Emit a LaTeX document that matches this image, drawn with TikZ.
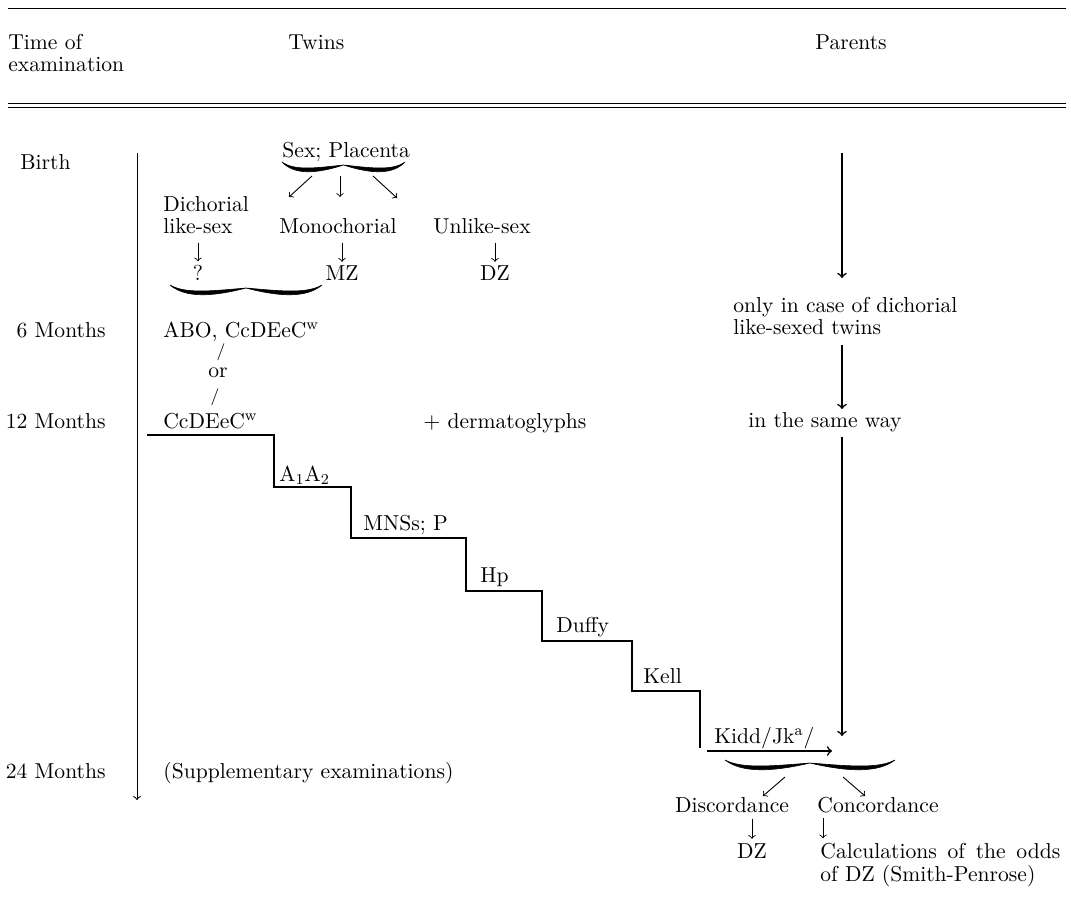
\documentclass[tikz,border=0pt]{standalone}

\tikzset{
  txt/.style={inner sep=0pt, font=\fontsize{10.8}{13}\selectfont},
  bw/.style={txt, anchor=base west},
  be/.style={txt, anchor=base east},
  bc/.style={txt, anchor=base},
  slash/.style={inner sep=0pt, anchor=base, font=\fontsize{8.5}{10}\selectfont},
  rule/.style={line width=0.5pt},
  axis/.style={line width=0.5pt, ->},
  stair/.style={line width=1.2pt},
  flow/.style={line width=0.8pt, ->},
  tick/.style={line width=0.45pt, ->},
}

% tapered brace: left x, right x, y of the ends (in picture units)
\newcommand{\wavebrace}[3]{%
  \pgfmathsetmacro{\bm}{(#1+#2)/2}%
  \pgfmathsetmacro{\bh}{(#2-#1)/2}%
  \filldraw[line width=0.3pt] (#1,#3) .. controls ({#1+0.2*\bh},{#3+9}) and ({\bm-0.45*\bh},{#3+6}) .. (\bm,{#3+3})
    .. controls ({\bm-0.45*\bh},{#3+12}) and ({#1+0.2*\bh},{#3+13}) .. (#1,#3) -- cycle;
  \filldraw[line width=0.3pt] (#2,#3) .. controls ({#2-0.2*\bh},{#3+9}) and ({\bm+0.45*\bh},{#3+6}) .. (\bm,{#3+3})
    .. controls ({\bm+0.45*\bh},{#3+12}) and ({#2-0.2*\bh},{#3+13}) .. (#2,#3) -- cycle;
}

\begin{document}
\begin{tikzpicture}[x=0.5pt, y=-0.5pt]
\useasboundingbox (0,0) rectangle (1071,909);

% header
\draw[rule] (8,9) -- (1066,9);
\node[bw] (time1) at (8,50) {Time of};
\node[bw] (time2) at (8,72) {examination};
\node[bw] (twins) at (288,50) {Twins};
\node[bw] (parents) at (815,50) {Parents};
\draw[rule] (8,104) -- (1066,104);
\draw[rule] (8,108) -- (1066,108);

% time axis
\node[bw] (birth) at (20,170) {Birth};
\node[be] (m6) at (106,337) {6 Months};
\node[be] (m12) at (106,428) {12 Months};
\node[be] (m24) at (106,778) {24 Months};
\coordinate (axtop) at (137,153);
\coordinate (axbot) at (137,800);
\draw[axis] (axtop) -- (axbot);

% twins at birth
\node[bw] (sexpl) at (282,158) {Sex; Placenta};
\wavebrace{282}{405}{162}
\node[bw] (dich1) at (163,212) {Dichorial};
\node[bw] (dich2) at (163,234) {like-sex};
\node[bc] (mono) at (338,234) {Monochorial};
\node[bc] (unlike) at (482,234) {Unlike-sex};
\coordinate (s1) at (312,176);
\coordinate (s2) at (340,176);
\coordinate (s3) at (373,176);
\coordinate (e1) at (289,197);
\coordinate (e3) at (397,198);
\draw[tick] (s1) -- (e1);
\draw[tick] (s2) -- (s2 |- e1);
\draw[tick] (s3) -- (e3);
\node[bc] (q) at (198,281) {?};
\node[bc] (mz) at (342,281) {MZ};
\node[bc] (dz1) at (495,281) {DZ};
\draw[tick, shorten <=4pt, shorten >=2pt] (q.north |- dich2.south) -- (q.north);
\draw[tick, shorten <=4pt, shorten >=2pt] (mz.north |- mono.south) -- (mz.north);
\draw[tick, shorten <=4pt, shorten >=2pt] (dz1.north |- unlike.south) -- (dz1.north);
\wavebrace{170}{322}{285}

% 6 and 12 months
\node[bw] (abo) at (163,337) {ABO, CcDEeC\textsuperscript{w}};
\node[slash] (sl1) at (221,357) {/};
\node[bc] (or) at (218,378) {or};
\node[slash] (sl2) at (215,401) {/};
\node[bw] (ccd) at (163,428) {CcDEeC\textsuperscript{w}};
\node[bw] (derm) at (423,428) {$+$ dermatoglyphs};

% staircase of blood groups
\draw[stair] (147,435) -| (274,487) -| (351,538) -| (466,591) -| (542,641) -| (632,691) -| (700,748);
\node[bw] (a1a2) at (279,481) {A\textsubscript{1}A\textsubscript{2}};
\node[bw] (mnss) at (363,530) {MNSs; P};
\node[bw] (hp) at (480,582) {Hp};
\node[bw] (duffy) at (556,632) {Duffy};
\node[bw] (kell) at (643,683) {Kell};
\node[bw] (kidd) at (714,743) {Kidd/Jk\textsuperscript{a}/};
\coordinate (ka) at (707,751);
\coordinate (kb) at (832,751);
\draw[flow] (ka) -- (kb);

\node[bw] (supp) at (163,778) {(Supplementary examinations)};

% parents
\coordinate (p0) at (842,153);
\coordinate (p1) at (842,278);
\node[bw] (only1) at (733,313) {only in case of dichorial};
\node[bw] (only2) at (733,335) {like-sexed twins};
\coordinate (p2) at (842,345);
\coordinate (p3) at (842,409);
\node[bw] (same) at (748,427) {in the same way};
\coordinate (p4) at (842,437);
\coordinate (p5) at (842,736);
\draw[flow] (p0) -- (p1);
\draw[flow] (p2) -- (p3);
\draw[flow] (p4) -- (p5);

% result
\wavebrace{725}{895}{760}
\node[bc] (disc) at (732,812) {Discordance};
\node[bw] (conc) at (817,812) {Concordance};
\coordinate (r1) at (785,777);
\coordinate (r2) at (843,777);
\coordinate (r1e) at (763,796);
\coordinate (r2e) at (865,796);
\draw[tick] (r1) -- (r1e);
\draw[tick] (r2) -- (r2e);
\node[bc] (dz2) at (752,858) {DZ};
\node[bw] (calc1) at (820,858) {\makebox[120pt][s]{Calculations of the odds}};
\node[bw] (calc2) at (820,881) {of DZ (Smith-Penrose)};
\draw[tick, shorten <=3pt, shorten >=2pt] (disc.south -| dz2.north) -- (dz2.north);
\coordinate (c0) at (823,818);
\draw[tick, shorten >=2pt] (c0) -- (c0 |- calc1.north);
\end{tikzpicture}
\end{document}
